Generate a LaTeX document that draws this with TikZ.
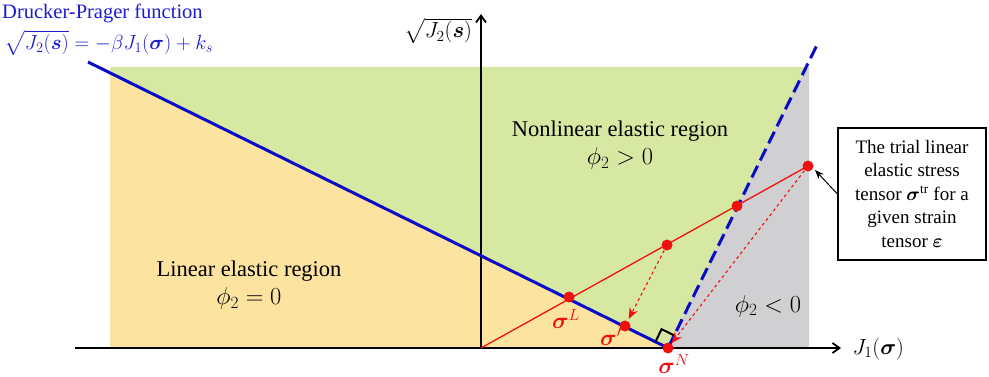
\RequirePackage{fix-cm}
\documentclass[tikz,border=0pt]{standalone}
\usepackage{amsmath}
\usepackage{fontspec}
\setmainfont{Liberation Serif}
\usetikzlibrary{arrows.meta,calc}
\definecolor{greenreg}{HTML}{D7E8A2}
\definecolor{orangereg}{HTML}{FDE3A0}
\definecolor{grayreg}{HTML}{D0D0D2}
\definecolor{dpblue}{HTML}{0A0AC8}
\definecolor{txtblue}{HTML}{1C1CD0}
\definecolor{redc}{HTML}{F01010}
\tikzset{
  axis/.style={line width=1.8pt,-{Straight Barb[length=7pt,width=10pt]}},
  dot/.style={circle,fill=redc,inner sep=0pt,minimum size=11pt},
  redlbl/.style={text=redc,font=\fontsize{23}{26}\selectfont},
  lbl/.style={font=\fontsize{22.5}{27}\selectfont,align=center},
  dptxt/.style={text=txtblue,font=\fontsize{20.5}{24}\selectfont,inner sep=0pt},
}
\newcommand{\mbig}{\fontsize{24.5}{28}\selectfont}
\begin{document}
\begin{tikzpicture}[x=1pt,y=-1pt]
\useasboundingbox (0,0) rectangle (989,377);
% regions
\fill[orangereg] (110,72.8) -- (668,348) -- (110,348) -- cycle;
\fill[greenreg] (110,67) -- (806,67) -- (668,348) -- (110,72.8) -- cycle;
\fill[grayreg] (806,67) -- (809,67) -- (809,348) -- (668,348) -- cycle;
% coordinates
\coordinate (O) at (481,348);
\coordinate (xs) at (75,348);
\coordinate (xe) at (841,348);
\coordinate (ye) at (481,14);
\coordinate (dpA) at (88,62);
\coordinate (dpE) at (817,45);
\coordinate (sN) at (668,348);
\coordinate (sL) at (569,297);
\coordinate (sp) at (625,326);
\coordinate (m1) at (667,245);
\coordinate (m2) at (737,206);
\coordinate (str) at (808,166);
% axes
\draw[axis] (xs) -- (xe);
\draw[axis] (O) -- (ye);
% DP line and normal
\draw[dpblue,line width=3pt] (dpA) -- (sN);
\draw[dpblue,line width=3pt,dash pattern=on 13pt off 6pt] (sN) -- (dpE);
% right angle
\draw[black,line width=2pt] ($(sN)+(-12.6,-6.2)$) -- ++(6.2,-12.6) -- ++(12.6,6.2);
% red line
\draw[redc,line width=1.3pt] (O) -- (str);
\draw[redc,line width=1.1pt,dashed,-{Stealth[length=11pt,width=9pt]}] (m1) -- ($(sp)!8pt!(m1)$);
\draw[redc,line width=1.1pt,dashed,-{Stealth[length=11pt,width=9pt]}] (str) -- ($(sN)!6pt!(str)$);
\foreach \p in {sN,sL,sp,m1,m2,str} \node[dot] at (\p) {};
% labels
\node[redlbl] (lL) at (566,319) {$\boldsymbol{\sigma}^{L}$};
\node[redlbl] (lp) at (611,337) {$\boldsymbol{\sigma}'$};
\node[redlbl] (lN) at (674,364) {$\boldsymbol{\sigma}^{N}$};
\node[lbl,anchor=center] (nl) at (620,145) {Nonlinear elastic region\\[1pt] {\mbig$\phi_2>0$}};
\node[lbl,anchor=center] (le) at (249,285) {Linear elastic region\\[1pt] {\mbig$\phi_2=0$}};
\node[lbl] (neg) at (768,306) {\mbig$\phi_2<0$};
\node[font=\fontsize{22}{26}\selectfont] (y1) at (438,31) {$\sqrt{J_2(\boldsymbol{s})}$};
\node[font=\fontsize{22}{26}\selectfont,anchor=west] (x1) at (849,349) {$J_1(\boldsymbol{\sigma})$};
\node[dptxt,anchor=north west] (dp1) at (2,4) {Drucker-Prager function};
\node[dptxt,anchor=north west] (dp2) at (4,30) {$\sqrt{J_2(\boldsymbol{s})}=-\beta J_1(\boldsymbol{\sigma})+k_s$};
\node[draw,line width=1.2pt,fill=white,font=\fontsize{19}{23.5}\selectfont,align=center,minimum width=148pt,minimum height=132pt,inner sep=2pt] (box) at (912,194) {The trial linear\\ elastic stress\\ tensor $\boldsymbol{\sigma}^{\mathrm{tr}}$ for a\\ given strain\\ tensor $\boldsymbol{\varepsilon}$};
\draw[line width=1pt,-{Stealth[length=9pt,width=7pt]}] (box.west) -- ($(str)+(7,4)$);
\end{tikzpicture}
\end{document}
